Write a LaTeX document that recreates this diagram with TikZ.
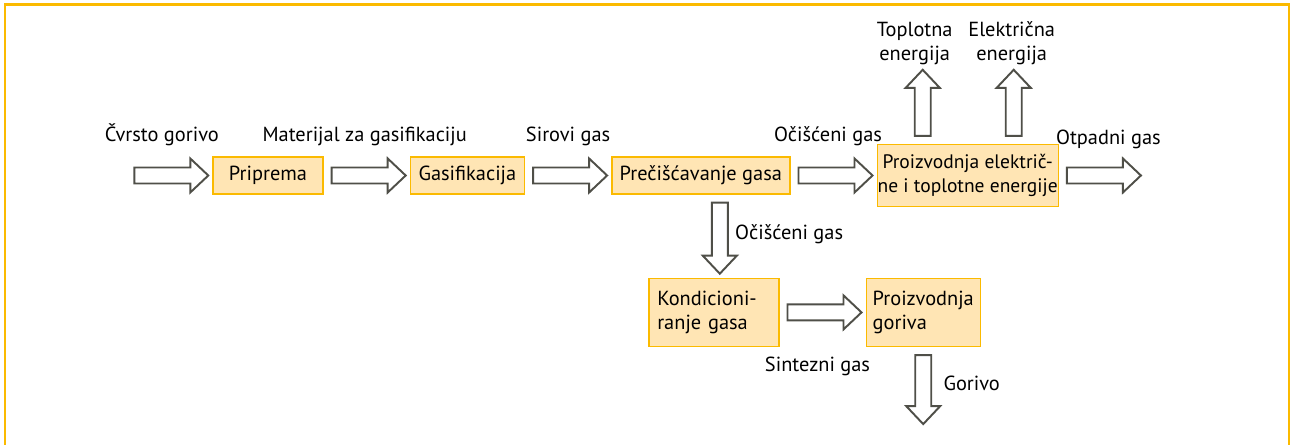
\documentclass[tikz,border=0pt]{standalone}
\usepackage{fontspec}
\setmainfont{PT Sans}
\usetikzlibrary{calc,positioning}
\definecolor{GasOrange}{HTML}{FBBA00}
\definecolor{GasFill}{HTML}{FFE5B4}
\definecolor{GasArrow}{HTML}{4F4F48}

\begin{document}
\begin{tikzpicture}[
    node distance=1.72cm,
    every node/.style={font=\fontsize{11.6}{13.6}\selectfont},
    box/.style={draw=GasOrange,line width=0.8pt,fill=GasFill,align=center,minimum height=0.74cm,inner sep=1pt},
    lbl/.style={inner sep=0pt},
    frame/.style={draw=GasOrange,line width=1.2pt},
    flow/.style={draw=GasArrow,fill=white,line width=1.1pt,line join=miter,
      to path={let \p1=(\tikztostart),\p2=(\tikztotarget),
        \n1={atan2(\y2-\y1,\x2-\x1)},\n2={veclen(\x2-\x1,\y2-\y1)} in
        ($(\p1)+(\n1:0.16cm)+(\n1+90:0.16cm)$)
        -- ($(\p1)+(\n1:{\n2*1pt-0.44cm})+(\n1+90:0.16cm)$)
        -- ($(\p1)+(\n1:{\n2*1pt-0.44cm})+(\n1+90:0.34cm)$)
        -- ($(\p1)+(\n1:{\n2*1pt-0.08cm})$)
        -- ($(\p1)+(\n1:{\n2*1pt-0.44cm})+(\n1-90:0.34cm)$)
        -- ($(\p1)+(\n1:{\n2*1pt-0.44cm})+(\n1-90:0.16cm)$)
        -- ($(\p1)+(\n1:0.16cm)+(\n1-90:0.16cm)$) -- cycle}}
  ]
  \useasboundingbox (0,0) rectangle (25.8,-8.9);
  \draw[frame] (0.1,-9.3) -- (0.1,-0.09) -- (25.78,-0.09) -- (25.78,-9.3);

  % main line
  \node[box,minimum width=2.2cm] (prep) at (5.36,-3.51) {Priprema};
  \node[box,minimum width=2.28cm,right=of prep] (gasif) {Gasifikacija};
  \node[box,minimum width=3.56cm,right=of gasif] (clean) {Prečišćavanje gasa};
  \node[box,minimum width=3.62cm,minimum height=1.24cm,inner xsep=0pt,font=\fontsize{11.1}{13.4}\selectfont,right=of clean] (chp) {Proizvodnja električ-\\ne i toplotne energije};

  % fuel branch
  \node[box,text width=2.26cm,inner xsep=0.17cm,minimum height=1.36cm,align=left,below=1.66cm of clean,xshift=0.26cm] (cond) {Kondicioni-\\ranje gasa};
  \node[box,text width=2.02cm,inner xsep=0.13cm,minimum height=1.36cm,align=left,right=of cond] (fuel) {Proizvodnja\\goriva};

  \coordinate (feed) at ($(prep.west)+(-1.72,0)$);
  \coordinate (exhaust) at ($(chp.east)+(1.72,0)$);
  \coordinate (heatout) at ($(chp.north)+(-0.9,1.56)$);
  \coordinate (powerout) at ($(chp.north)+(0.92,1.56)$);
  \coordinate (fuelout) at ($(fuel.south)+(0,-1.62)$);

  \draw[flow] (feed) to (prep.west);
  \draw[flow] (prep.east) to (gasif.west);
  \draw[flow] (gasif.east) to (clean.west);
  \draw[flow] (clean.east) to (chp.west);
  \draw[flow] (chp.east) to (exhaust);
  \draw[flow] ([xshift=-0.9cm]chp.north) to (heatout);
  \draw[flow] ([xshift=0.92cm]chp.north) to (powerout);
  \draw[flow] ([xshift=0.38cm]clean.south) to ([xshift=0.12cm]cond.north);
  \draw[flow] (cond.east) to (fuel.west);
  \draw[flow] (fuel.south) to (fuelout);

  % labels
  \node[lbl,anchor=base] (lsolid) at ($(feed)!0.5!(prep.west)+(-0.15,0.67)$) {Čvrsto gorivo};
  \node[lbl,anchor=base] (lfeed) at ($(prep.east)!0.5!(gasif.west)+(-0.04,0.67)$) {Materijal za gasifikaciju};
  \node[lbl,anchor=base] (lraw) at ($(gasif.east)!0.5!(clean.west)$) [yshift=0.67cm] {Sirovi gas};
  \node[lbl,anchor=base] (lclean) at ($(clean.east)!0.5!(chp.west)+(-0.11,0.67)$) {Očišćeni gas};
  \node[lbl,anchor=base] (lwaste) at ($(chp.east)!0.5!(exhaust)+(0.13,0.62)$) {Otpadni gas};
  \node[lbl,anchor=south,align=center,xshift=-0.16cm,yshift=0.01cm] (lheat) at (heatout) {Toplotna\\energija};
  \node[lbl,anchor=south,align=center,xshift=-0.04cm,yshift=0.01cm] (lpower) at (powerout) {Električna\\energija};
  \node[lbl,anchor=west] (lclean2) at ($([xshift=0.38cm]clean.south)!0.5!([xshift=0.12cm]cond.north)+(0.3,0.04)$) {Očišćeni gas};
  \node[lbl,anchor=base] (lsyn) at ($(cond.east)!0.5!(fuel.west)+(-0.1,-1.18)$) {Sintezni gas};
  \node[lbl,anchor=west] (lfuel) at ($(fuel.south)!0.5!(fuelout)+(0.4,0.08)$) {Gorivo};
\end{tikzpicture}
\end{document}
